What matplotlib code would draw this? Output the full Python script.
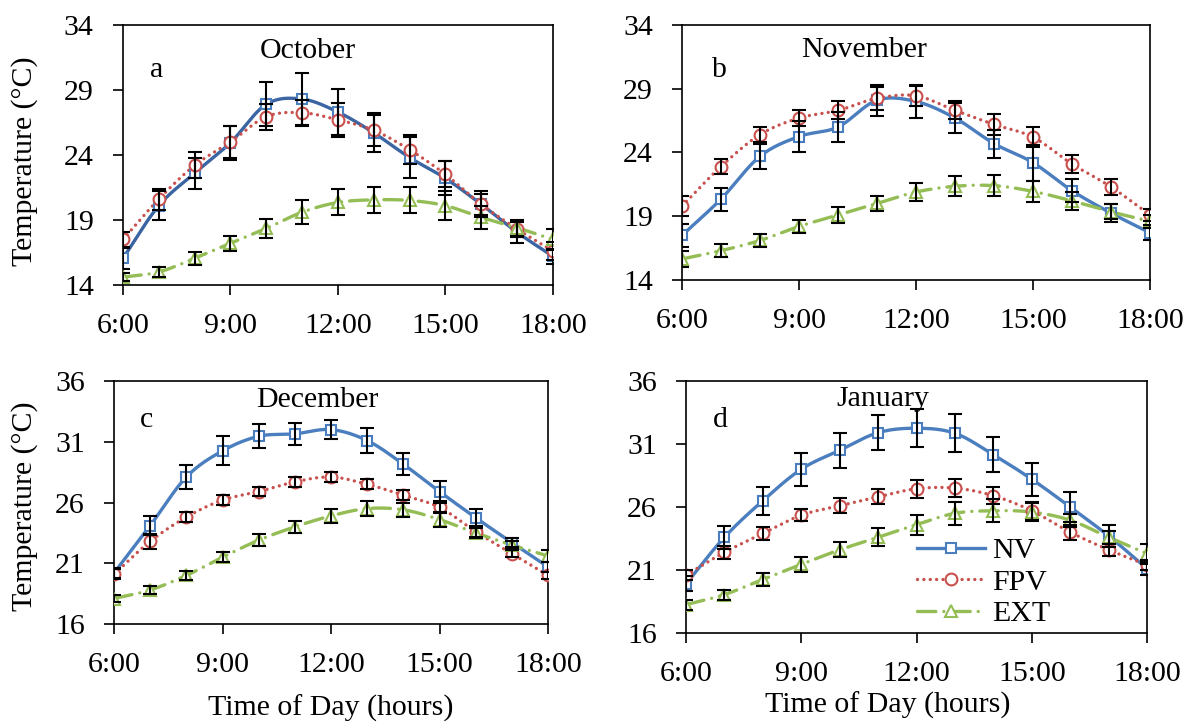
"""Hourly temperature profiles (NV, FPV, EXT) for four months."""

import numpy as np
import matplotlib
matplotlib.use("Agg")
import matplotlib.pyplot as plt
from matplotlib.lines import Line2D

plt.rcParams["font.family"] = ["Liberation Serif", "DejaVu Serif"]

hours = [6, 7, 8, 9, 10, 11, 12, 13, 14, 15, 16, 17, 18]
tick_hours = [6, 9, 12, 15, 18]
tick_labels = ["6:00", "9:00", "12:00", "15:00", "18:00"]
series_names = ["NV", "FPV", "EXT"]
months = ["October", "November", "December", "January"]
panel_letters = ["a", "b", "c", "d"]

oct_nv = [16.05, 20.1, 22.6, 24.95, 27.9, 28.3, 27.3, 25.7, 23.8, 22.2, 20.2, 18.05, 16.2]
oct_fpv = [17.5, 20.6, 23.2, 25.0, 26.95, 27.25, 26.7, 25.9, 24.4, 22.5, 20.2, 18.3, 16.6]
oct_ext = [14.6, 15.0, 16.05, 17.2, 18.35, 19.6, 20.35, 20.55, 20.5, 20.1, 19.2, 18.4, 17.5]
oct_nv_err = [0.8, 1.1, 1.2, 1.3, 1.7, 2.0, 1.8, 1.5, 1.6, 1.3, 1.0, 0.8, 0.6]
oct_fpv_err = [0.6, 0.8, 1.0, 1.2, 1.0, 1.0, 1.3, 1.2, 1.1, 1.0, 0.8, 0.6, 0.7]
oct_ext_err = [0.3, 0.4, 0.5, 0.6, 0.7, 0.9, 1.0, 1.0, 1.0, 1.1, 0.9, 0.6, 0.8]

nov_nv = [17.5, 20.35, 23.7, 25.25, 26.0, 28.1, 28.0, 26.7, 24.7, 23.2, 21.0, 19.25, 17.7]
nov_fpv = [19.8, 22.9, 25.4, 26.7, 27.3, 28.25, 28.45, 27.3, 26.2, 25.2, 23.1, 21.3, 19.1]
nov_ext = [15.65, 16.3, 17.1, 18.2, 19.1, 20.0, 20.9, 21.35, 21.4, 20.95, 20.2, 19.35, 18.6]
nov_nv_err = [0.9, 0.9, 1.0, 1.2, 1.2, 1.2, 1.3, 1.2, 1.1, 1.4, 0.9, 0.7, 0.6]
nov_fpv_err = [0.8, 0.6, 0.6, 0.6, 0.7, 0.9, 0.8, 0.7, 0.8, 0.8, 0.7, 0.6, 0.5]
nov_ext_err = [0.6, 0.5, 0.5, 0.5, 0.6, 0.6, 0.7, 0.8, 0.8, 0.8, 0.7, 0.6, 0.5]

dec_nv = [20.2, 24.1, 28.1, 30.25, 31.45, 31.65, 32.0, 31.1, 29.15, 26.9, 24.75, 22.7, 20.7]
dec_fpv = [20.1, 22.8, 24.8, 26.2, 26.9, 27.7, 28.1, 27.5, 26.6, 25.6, 23.6, 21.8, 20.0]
dec_ext = [18.1, 18.8, 20.0, 21.5, 22.9, 24.0, 24.9, 25.5, 25.4, 24.6, 23.5, 22.5, 21.6]
dec_nv_err = [0.4, 0.8, 1.0, 1.2, 1.0, 0.9, 0.8, 1.0, 0.9, 0.9, 0.7, 0.4, 0.4]
dec_fpv_err = [0.4, 0.6, 0.4, 0.4, 0.4, 0.4, 0.4, 0.4, 0.4, 0.5, 0.4, 0.3, 0.3]
dec_ext_err = [0.3, 0.3, 0.4, 0.4, 0.5, 0.5, 0.6, 0.6, 0.6, 0.6, 0.4, 0.3, 0.5]

jan_nv = [19.9, 23.6, 26.5, 29.0, 30.5, 31.9, 32.25, 31.85, 30.15, 28.2, 26.0, 23.7, 21.1]
jan_fpv = [20.6, 22.4, 23.9, 25.35, 26.1, 26.8, 27.45, 27.5, 26.9, 25.7, 24.0, 22.6, 21.4]
jan_ext = [18.25, 19.05, 20.25, 21.45, 22.6, 23.6, 24.6, 25.5, 25.7, 25.6, 24.95, 23.6, 22.3]
jan_nv_err = [0.6, 0.9, 1.1, 1.3, 1.4, 1.4, 1.5, 1.5, 1.4, 1.3, 1.2, 0.9, 0.5]
jan_fpv_err = [0.4, 0.5, 0.5, 0.5, 0.6, 0.6, 0.7, 0.7, 0.7, 0.7, 0.6, 0.5, 0.4]
jan_ext_err = [0.4, 0.4, 0.5, 0.6, 0.6, 0.7, 0.8, 0.9, 0.9, 0.7, 0.5, 0.5, 0.8]

panel_data = [
    (oct_nv, oct_fpv, oct_ext, oct_nv_err, oct_fpv_err, oct_ext_err),
    (nov_nv, nov_fpv, nov_ext, nov_nv_err, nov_fpv_err, nov_ext_err),
    (dec_nv, dec_fpv, dec_ext, dec_nv_err, dec_fpv_err, dec_ext_err),
    (jan_nv, jan_fpv, jan_ext, jan_nv_err, jan_fpv_err, jan_ext_err),
]
y_ranges = [(14, 34), (14, 34), (16, 36), (16, 36)]

# axes boxes in figure fractions: left, bottom, width, height
boxes = [
    (0.1034, 0.6053, 0.3617, 0.3601),
    (0.5736, 0.6122, 0.3936, 0.3532),
    (0.0959, 0.1357, 0.3650, 0.3366),
    (0.5770, 0.1233, 0.3877, 0.3490),
]
# text anchors in axes fractions (baseline)
title_pos = [(0.43, 0.873), (0.39, 0.875), (0.468, 0.893), (0.427, 0.90)]
letter_pos = [(0.079, 0.80), (0.081, 0.796), (0.074, 0.81), (0.074, 0.817)]
ylabel_pos = {0: (-0.198, 0.477), 2: (-0.175, 0.486)}
xlabel_pos = {2: (0.5, -0.292), 3: (0.438, -0.234)}

BLUE = "#4a7ebf"
RED = "#c8504d"
GREEN = "#95bd55"
styles = [
    dict(color=BLUE, ls="-", marker="s", ms=6.5),
    dict(color=RED, ls=(0, (0.01, 1.9)), marker="o", ms=8.5),
    dict(color=GREEN, ls=(0, (5.5, 2.4, 0.01, 2.4)), marker="^", ms=8.5),
]
FS = 21.5


def smooth(x, y, n=24):
    """Catmull-Rom curve through the points (like Excel smoothed lines)."""
    x = np.asarray(x, float)
    y = np.asarray(y, float)
    px = np.concatenate([[2 * x[0] - x[1]], x, [2 * x[-1] - x[-2]]])
    py = np.concatenate([[2 * y[0] - y[1]], y, [2 * y[-1] - y[-2]]])
    t = np.linspace(0, 1, n, endpoint=False)
    xs, ys = [], []
    for i in range(1, len(px) - 2):
        for p, out in ((px, xs), (py, ys)):
            p0, p1, p2, p3 = p[i - 1], p[i], p[i + 1], p[i + 2]
            out.extend(0.5 * (2 * p1 + (-p0 + p2) * t
                              + (2 * p0 - 5 * p1 + 4 * p2 - p3) * t ** 2
                              + (-p0 + 3 * p1 - 3 * p2 + p3) * t ** 3))
    xs.append(x[-1])
    ys.append(y[-1])
    return xs, ys


fig = plt.figure(figsize=(11.89, 7.22), dpi=100)

for idx, box in enumerate(boxes):
    ax = fig.add_axes(box)
    nv, fpv, ext, nv_err, fpv_err, ext_err = panel_data[idx]
    for values, errs, st in zip((nv, fpv, ext), (nv_err, fpv_err, ext_err), styles):
        color = "#3a64a2" if (idx == 0 and st["marker"] == "s") else st["color"]
        sx, sy = smooth(hours, values)
        ax.plot(sx, sy, color=color, ls=st["ls"], lw=2.4,
                dash_capstyle="round", zorder=2)
        ax.plot(hours, values, ls="none", marker=st["marker"], ms=st["ms"],
                mfc="white", mec=st["color"], mew=1.5, zorder=3)
        ax.errorbar(hours, values, yerr=errs, fmt="none", ecolor="black",
                    elinewidth=1.5, capsize=4.7, capthick=1.5, zorder=4)

    ax.set_xlim(6, 18)
    ax.set_ylim(*y_ranges[idx])
    ax.set_xticks(tick_hours)
    ax.set_xticklabels(tick_labels)
    lo, hi = y_ranges[idx]
    ax.set_yticks(range(lo, hi + 1, 5))
    ax.tick_params(direction="out", length=7, width=1.2, labelsize=FS)
    ax.tick_params(axis="x", pad=13)
    ax.tick_params(axis="y", pad=14)
    for sp in ax.spines.values():
        sp.set_linewidth(1.2)

    ax.text(*title_pos[idx], months[idx], transform=ax.transAxes,
            ha="center", va="baseline", fontsize=FS)
    ax.text(*letter_pos[idx], panel_letters[idx], transform=ax.transAxes,
            ha="center", va="baseline", fontsize=FS)

    if idx in ylabel_pos:
        ax.set_ylabel("Temperature (°C)", fontsize=FS)
        ax.yaxis.set_label_coords(*ylabel_pos[idx])
    if idx in xlabel_pos:
        ax.set_xlabel("Time of Day (hours)", fontsize=FS)
        ax.xaxis.set_label_coords(*xlabel_pos[idx])

    if idx == 3:
        handles = [
            Line2D([], [], color=st["color"], ls=st["ls"], lw=2.4,
                   marker=st["marker"], ms=st["ms"], mfc="white",
                   mec=st["color"], mew=1.5, dash_capstyle="round")
            for st in styles
        ]
        ax.legend(handles, series_names, loc="upper left",
                  bbox_to_anchor=(0.5, 0.379), frameon=False, fontsize=FS,
                  handlelength=2.3, handletextpad=0.23, labelspacing=0.15,
                  borderpad=0, borderaxespad=0)

fig.savefig("out.png", dpi=100)
